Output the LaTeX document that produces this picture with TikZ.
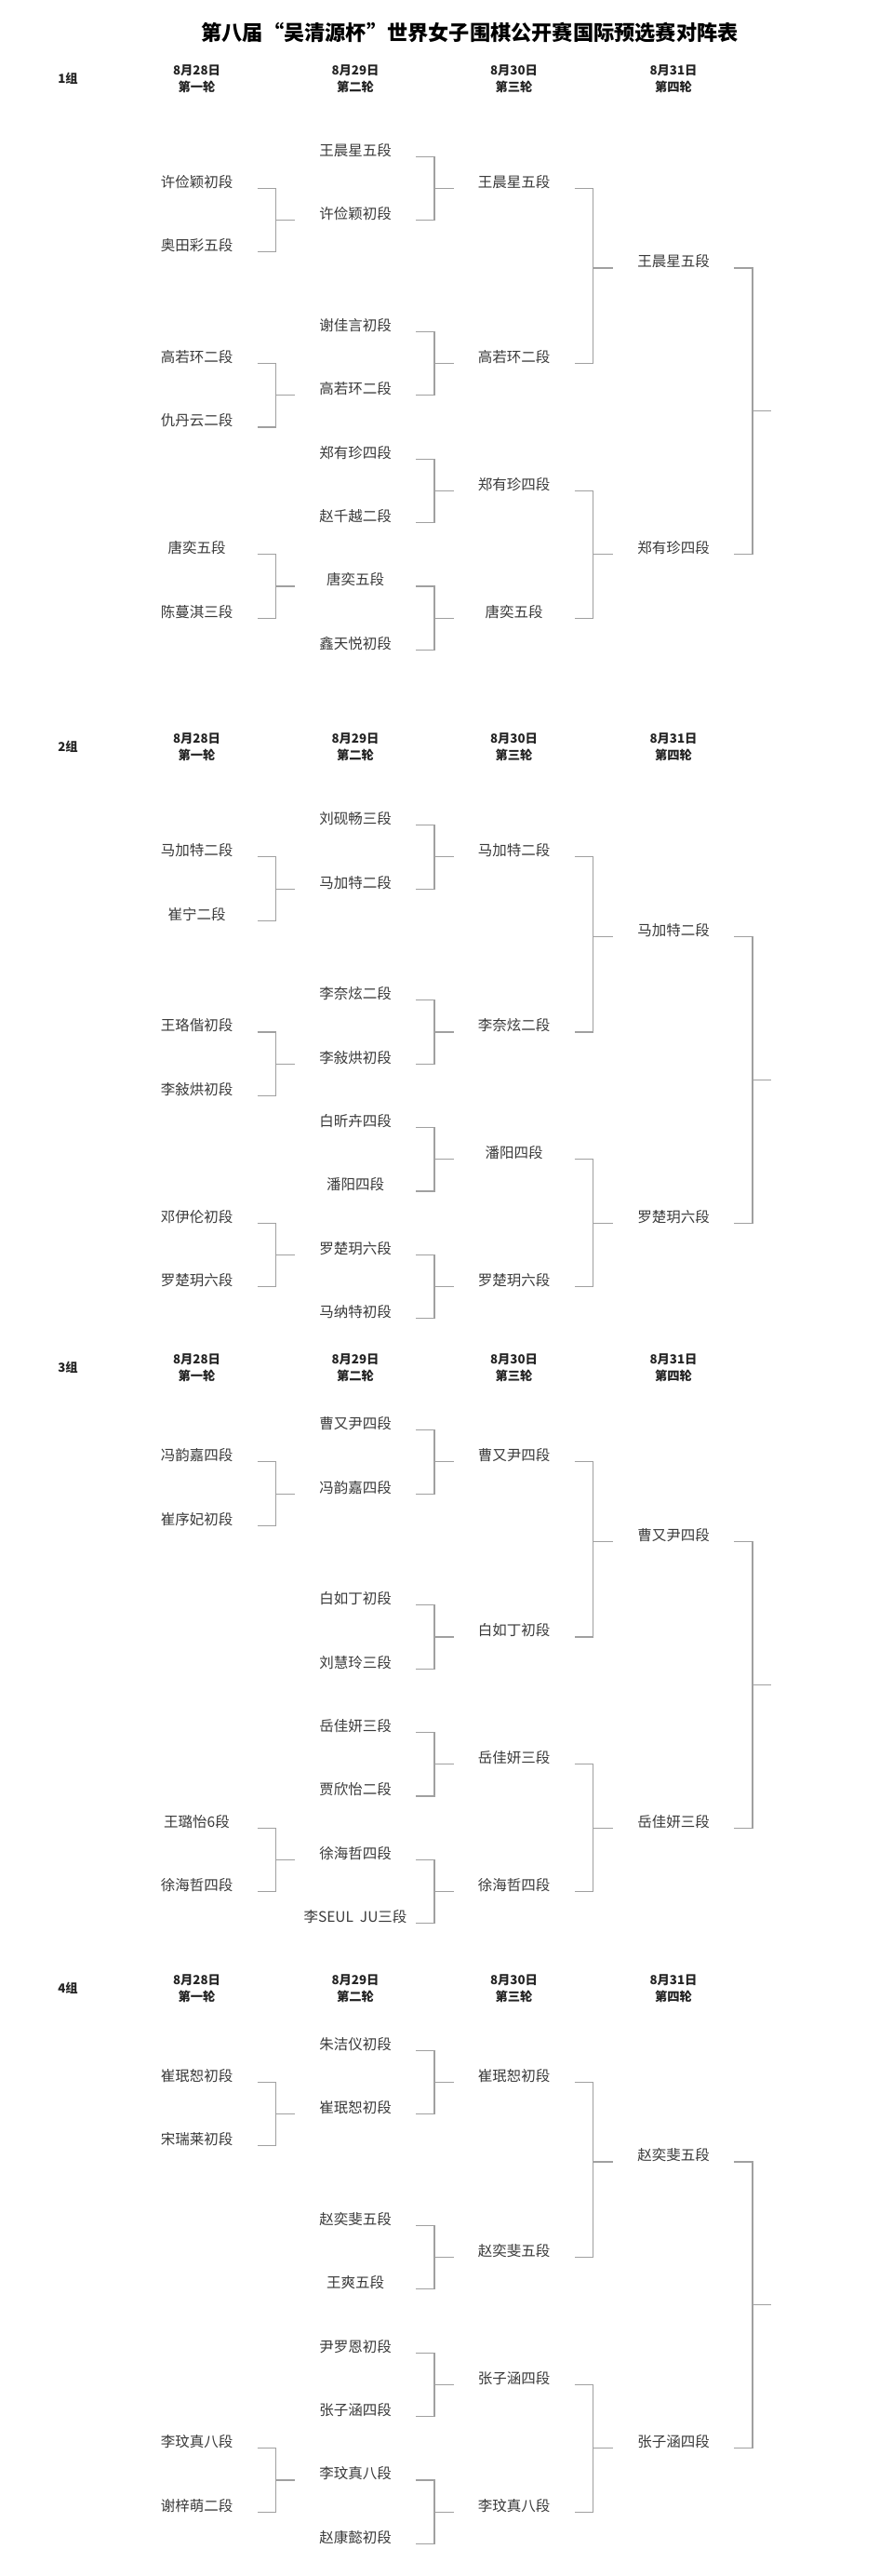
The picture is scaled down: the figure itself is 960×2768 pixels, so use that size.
\documentclass[tikz,border=0pt]{standalone}
\usepackage{fontspec}
\setmainfont{Noto Sans CJK SC}
\usetikzlibrary{calc}
\definecolor{namecol}{RGB}{58,58,58}
\definecolor{linecol}{RGB}{160,160,160}
\definecolor{hdrcol}{RGB}{35,35,35}
\tikzset{
  nm/.style={inner sep=0pt, text=namecol, font=\fontsize{15.5}{16}\selectfont, text height=13pt, text depth=1.7pt, anchor=center},
  hd/.style={inner sep=0pt, text=hdrcol, font=\fontsize{13.3}{14}\selectfont\bfseries, text height=11.2pt, text depth=1.5pt, anchor=center},
  ttl/.style={inner sep=0pt, text=black, font=\fontsize{22.2}{23}\selectfont\bfseries, anchor=center},
  bline/.style={draw=linecol, line width=1.1pt}
}
\def\u{34.2}
\def\cA{211.5}
\def\cB{382}
\def\cC{552.5}
\def\cD{724}
\newcommand{\putname}[4]{\node[nm] (#1) at (#2,{\T+#3*\u}) {#4};}
\newcommand{\mkbrk}[3]{%
  \coordinate (ba) at ($(#1.center)+(65,6.7)$);
  \coordinate (bb) at ($(#2.center)+(65,6.7)$);
  \coordinate (bt) at ($(#3.center)+(-65,6.7)$);
  \coordinate (bv) at ($(ba)+(20,0)$);
  \draw[bline] (ba) -- (bv) -- (bv |- bb) -- (bb);
  \draw[bline] (bv |- bt) -- (bt);
}
\newcommand{\mkend}[3]{%
  \coordinate (ba) at ($(#1.center)+(65,6.7)$);
  \coordinate (bb) at ($(#2.center)+(65,6.7)$);
  \coordinate (bv) at ($(ba)+(20,0)$);
  \coordinate (bw) at (bv |- bb);
  \draw[bline] (ba) -- (bv) -- (bw) -- (bb);
  \coordinate (bm) at ($(bv)!0.5!(bw)$);
  \coordinate (#3) at ($(bm)+(20,0)$);
  \draw[bline] (bm) -- (#3);
}
\newcommand{\header}[3]{% prefix, date y, label y
  \node[hd] (#1l) at (73,#3) {#1组};
  \node[hd] (#1d1) at (\cA,#2) {8月28日};
  \node[hd] (#1r1) at (\cA,{#2+17.5}) {第一轮};
  \node[hd] (#1d2) at (\cB,#2) {8月29日};
  \node[hd] (#1r2) at (\cB,{#2+17.5}) {第二轮};
  \node[hd] (#1d3) at (\cC,#2) {8月30日};
  \node[hd] (#1r3) at (\cC,{#2+17.5}) {第三轮};
  \node[hd] (#1d4) at (\cD,#2) {8月31日};
  \node[hd] (#1r4) at (\cD,{#2+17.5}) {第四轮};
}
\begin{document}
\begin{tikzpicture}[x=1pt,y=-1pt]
\fill[white] (0,0) rectangle (960,2768);
\useasboundingbox (0,0) rectangle (960,2768);

\node[ttl] (title) at (505,35) {第八届“吴清源杯”世界女子围棋公开赛国际预选赛对阵表};

% ---------------- Group 1 ----------------
\header{1}{76}{85}
\def\T{161.6}
\putname{g1a1}{\cA}{1}{许俭颖初段}
\putname{g1a2}{\cA}{3}{奥田彩五段}
\putname{g1a3}{\cA}{6.5}{高若环二段}
\putname{g1a4}{\cA}{8.5}{仇丹云二段}
\putname{g1a5}{\cA}{12.5}{唐奕五段}
\putname{g1a6}{\cA}{14.5}{陈蔓淇三段}
\putname{g1b1}{\cB}{0}{王晨星五段}
\putname{g1b2}{\cB}{2}{许俭颖初段}
\putname{g1b3}{\cB}{5.5}{谢佳言初段}
\putname{g1b4}{\cB}{7.5}{高若环二段}
\putname{g1b5}{\cB}{9.5}{郑有珍四段}
\putname{g1b6}{\cB}{11.5}{赵千越二段}
\putname{g1b7}{\cB}{13.5}{唐奕五段}
\putname{g1b8}{\cB}{15.5}{鑫天悦初段}
\putname{g1c1}{\cC}{1}{王晨星五段}
\putname{g1c2}{\cC}{6.5}{高若环二段}
\putname{g1c3}{\cC}{10.5}{郑有珍四段}
\putname{g1c4}{\cC}{14.5}{唐奕五段}
\putname{g1d1}{\cD}{3.5}{王晨星五段}
\putname{g1d2}{\cD}{12.5}{郑有珍四段}
\mkbrk{g1a1}{g1a2}{g1b2}
\mkbrk{g1a3}{g1a4}{g1b4}
\mkbrk{g1a5}{g1a6}{g1b7}
\mkbrk{g1b1}{g1b2}{g1c1}
\mkbrk{g1b3}{g1b4}{g1c2}
\mkbrk{g1b5}{g1b6}{g1c3}
\mkbrk{g1b7}{g1b8}{g1c4}
\mkbrk{g1c1}{g1c2}{g1d1}
\mkbrk{g1c3}{g1c4}{g1d2}
\mkend{g1d1}{g1d2}{g1f}

% ---------------- Group 2 ----------------
\header{2}{794}{802.7}
\def\T{880}
\putname{g2a1}{\cA}{1}{马加特二段}
\putname{g2a2}{\cA}{3}{崔宁二段}
\putname{g2a3}{\cA}{6.5}{王珞偕初段}
\putname{g2a4}{\cA}{8.5}{李敍烘初段}
\putname{g2a5}{\cA}{12.5}{邓伊伦初段}
\putname{g2a6}{\cA}{14.5}{罗楚玥六段}
\putname{g2b1}{\cB}{0}{刘砚畅三段}
\putname{g2b2}{\cB}{2}{马加特二段}
\putname{g2b3}{\cB}{5.5}{李奈炫二段}
\putname{g2b4}{\cB}{7.5}{李敍烘初段}
\putname{g2b5}{\cB}{9.5}{白昕卉四段}
\putname{g2b6}{\cB}{11.5}{潘阳四段}
\putname{g2b7}{\cB}{13.5}{罗楚玥六段}
\putname{g2b8}{\cB}{15.5}{马纳特初段}
\putname{g2c1}{\cC}{1}{马加特二段}
\putname{g2c2}{\cC}{6.5}{李奈炫二段}
\putname{g2c3}{\cC}{10.5}{潘阳四段}
\putname{g2c4}{\cC}{14.5}{罗楚玥六段}
\putname{g2d1}{\cD}{3.5}{马加特二段}
\putname{g2d2}{\cD}{12.5}{罗楚玥六段}
\mkbrk{g2a1}{g2a2}{g2b2}
\mkbrk{g2a3}{g2a4}{g2b4}
\mkbrk{g2a5}{g2a6}{g2b7}
\mkbrk{g2b1}{g2b2}{g2c1}
\mkbrk{g2b3}{g2b4}{g2c2}
\mkbrk{g2b5}{g2b6}{g2c3}
\mkbrk{g2b7}{g2b8}{g2c4}
\mkbrk{g2c1}{g2c2}{g2d1}
\mkbrk{g2c3}{g2c4}{g2d2}
\mkend{g2d1}{g2d2}{g2f}

% ---------------- Group 3 ----------------
\header{3}{1460.7}{1470}
\def\T{1530}
\putname{g3a1}{\cA}{1}{冯韵嘉四段}
\putname{g3a2}{\cA}{3}{崔序妃初段}
\putname{g3a5}{\cA}{12.5}{王璐怡6段}
\putname{g3a6}{\cA}{14.5}{徐海哲四段}
\putname{g3b1}{\cB}{0}{曹又尹四段}
\putname{g3b2}{\cB}{2}{冯韵嘉四段}
\putname{g3b3}{\cB}{5.5}{白如丁初段}
\putname{g3b4}{\cB}{7.5}{刘慧玲三段}
\putname{g3b5}{\cB}{9.5}{岳佳妍三段}
\putname{g3b6}{\cB}{11.5}{贾欣怡二段}
\putname{g3b7}{\cB}{13.5}{徐海哲四段}
\putname{g3b8}{\cB}{15.5}{李SEUL\ \ JU三段}
\putname{g3c1}{\cC}{1}{曹又尹四段}
\putname{g3c2}{\cC}{6.5}{白如丁初段}
\putname{g3c3}{\cC}{10.5}{岳佳妍三段}
\putname{g3c4}{\cC}{14.5}{徐海哲四段}
\putname{g3d1}{\cD}{3.5}{曹又尹四段}
\putname{g3d2}{\cD}{12.5}{岳佳妍三段}
\mkbrk{g3a1}{g3a2}{g3b2}
\mkbrk{g3a5}{g3a6}{g3b7}
\mkbrk{g3b1}{g3b2}{g3c1}
\mkbrk{g3b3}{g3b4}{g3c2}
\mkbrk{g3b5}{g3b6}{g3c3}
\mkbrk{g3b7}{g3b8}{g3c4}
\mkbrk{g3c1}{g3c2}{g3d1}
\mkbrk{g3c3}{g3c4}{g3d2}
\mkend{g3d1}{g3d2}{g3f}

% ---------------- Group 4 ----------------
\header{4}{2127.7}{2136.7}
\def\T{2196.6}
\putname{g4a1}{\cA}{1}{崔珉恕初段}
\putname{g4a2}{\cA}{3}{宋瑞莱初段}
\putname{g4a5}{\cA}{12.5}{李玟真八段}
\putname{g4a6}{\cA}{14.5}{谢梓萌二段}
\putname{g4b1}{\cB}{0}{朱洁仪初段}
\putname{g4b2}{\cB}{2}{崔珉恕初段}
\putname{g4b3}{\cB}{5.5}{赵奕斐五段}
\putname{g4b4}{\cB}{7.5}{王爽五段}
\putname{g4b5}{\cB}{9.5}{尹罗恩初段}
\putname{g4b6}{\cB}{11.5}{张子涵四段}
\putname{g4b7}{\cB}{13.5}{李玟真八段}
\putname{g4b8}{\cB}{15.5}{赵康懿初段}
\putname{g4c1}{\cC}{1}{崔珉恕初段}
\putname{g4c2}{\cC}{6.5}{赵奕斐五段}
\putname{g4c3}{\cC}{10.5}{张子涵四段}
\putname{g4c4}{\cC}{14.5}{李玟真八段}
\putname{g4d1}{\cD}{3.5}{赵奕斐五段}
\putname{g4d2}{\cD}{12.5}{张子涵四段}
\mkbrk{g4a1}{g4a2}{g4b2}
\mkbrk{g4a5}{g4a6}{g4b7}
\mkbrk{g4b1}{g4b2}{g4c1}
\mkbrk{g4b3}{g4b4}{g4c2}
\mkbrk{g4b5}{g4b6}{g4c3}
\mkbrk{g4b7}{g4b8}{g4c4}
\mkbrk{g4c1}{g4c2}{g4d1}
\mkbrk{g4c3}{g4c4}{g4d2}
\mkend{g4d1}{g4d2}{g4f}
\end{tikzpicture}
\end{document}
